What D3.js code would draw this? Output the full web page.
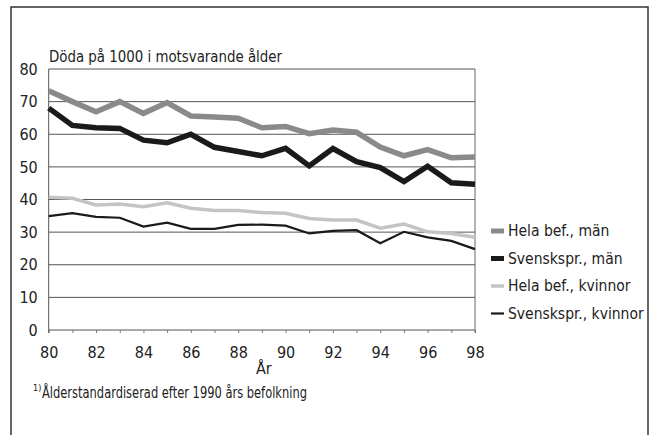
<!DOCTYPE html>
<html>
<head>
<meta charset="utf-8">
<script src="https://cdn.jsdelivr.net/npm/d3@7"></script>
<style>
  body { margin: 0; background: #fff; }
  svg text { font-family: "Liberation Sans Narrow", "DejaVu Sans Condensed", sans-serif; fill: #222; }
</style>
</head>
<body>
<svg id="chart" width="654" height="435"></svg>
<script>
// years 1980-1998 (shown as 80..98)
const years = d3.range(80, 99);
const helaMan = [73.3, 70, 66.9, 70, 66.4, 69.7, 65.6, 65.3, 64.9, 62, 62.4, 60.2, 61.3, 60.6, 56.1, 53.4, 55.3, 52.8, 53];
const svMan = [68, 62.7, 62, 61.8, 58.2, 57.4, 60, 56, 54.7, 53.4, 55.7, 50.3, 55.6, 51.6, 49.8, 45.5, 50.2, 45.1, 44.7];
const helaKv = [40.7, 40.4, 38.3, 38.6, 37.8, 39, 37.3, 36.6, 36.6, 36, 35.8, 34.2, 33.7, 33.7, 31.2, 32.5, 30.1, 29.6, 28.4];
const svKv = [34.9, 35.8, 34.7, 34.4, 31.7, 32.9, 31, 31, 32.2, 32.3, 32, 29.6, 30.4, 30.6, 26.6, 30.1, 28.4, 27.3, 24.8];
const xTicks = d3.range(80, 99, 2);
const yTicks = d3.range(0, 81, 10);

const series = [
  { name: "Hela bef., män", values: helaMan, color: "#8a8a8a", width: 5.5 },
  { name: "Svenskspr., män", values: svMan, color: "#1a1a1a", width: 5.5 },
  { name: "Hela bef., kvinnor", values: helaKv, color: "#c4c4c4", width: 3.5 },
  { name: "Svenskspr., kvinnor", values: svKv, color: "#1a1a1a", width: 2.2 },
];

const svg = d3.select("#chart");
const mLeft = 48.7, mRight = 475, mTop = 69, mBottom = 330;

// outer frame
svg.append("rect")
  .attr("x", 11).attr("y", 7)
  .attr("width", 637).attr("height", 440)
  .attr("fill", "none").attr("stroke", "#333").attr("stroke-width", 1.5);

const x = d3.scaleLinear().domain([80, 98]).range([mLeft, mRight]);
const y = d3.scaleLinear().domain([0, 80]).range([mBottom, mTop]);

// gridlines
svg.append("g")
  .selectAll("line")
  .data(yTicks)
  .join("line")
  .attr("x1", mLeft).attr("x2", mRight)
  .attr("y1", (d) => y(d)).attr("y2", (d) => y(d))
  .attr("stroke", "#555").attr("stroke-width", 1);

// plot frame sides
svg.append("line")
  .attr("x1", mLeft).attr("x2", mLeft).attr("y1", mTop).attr("y2", mBottom + 3)
  .attr("stroke", "#555").attr("stroke-width", 1);
svg.append("line")
  .attr("x1", mRight).attr("x2", mRight).attr("y1", mTop).attr("y2", mBottom + 3)
  .attr("stroke", "#666").attr("stroke-width", 1);

// x axis: minor ticks each year, labels each second year
const xAxis = d3.axisBottom(x).tickValues(years).tickSize(3).tickFormat((d) => (xTicks.includes(d) ? d : ""));
const gx = svg.append("g").attr("transform", `translate(0,${mBottom})`).call(xAxis);
gx.select(".domain").remove();
gx.selectAll(".tick line").attr("stroke", "#777");
gx.selectAll(".tick text").attr("font-size", 16).attr("dy", "1.4em");

// y axis labels
const yAxis = d3.axisLeft(y).tickValues(yTicks).tickSize(0).tickPadding(11);
const gy = svg.append("g").attr("transform", `translate(${mLeft},0)`).call(yAxis);
gy.select(".domain").remove();
gy.selectAll(".tick text").attr("font-size", 16);

// lines
const line = d3.line().x((d, i) => x(years[i])).y((d) => y(d));
svg.append("g")
  .selectAll("path")
  .data(series)
  .join("path")
  .attr("d", (d) => line(d.values))
  .attr("fill", "none")
  .attr("stroke", (d) => d.color)
  .attr("stroke-width", (d) => d.width)
  .attr("stroke-linejoin", "miter");

// titles
svg.append("text").attr("x", 49).attr("y", 62).attr("font-size", 16)
  .attr("textLength", 233).attr("lengthAdjust", "spacingAndGlyphs")
  .text("Döda på 1000 i motsvarande ålder");
svg.append("text").attr("x", (mLeft + mRight) / 2 + 2).attr("y", 374).attr("font-size", 16)
  .attr("text-anchor", "middle").text("År");

// footnote
const fn = svg.append("text").attr("x", 33).attr("y", 398).attr("font-size", 16.5);
fn.append("tspan").attr("font-size", 9).attr("dy", -7).text("1)");
fn.append("tspan").attr("x", 42).attr("dy", 7)
  .attr("textLength", 265).attr("lengthAdjust", "spacingAndGlyphs")
  .text("Ålderstandardiserad efter 1990 års befolkning");

// legend
const leg = svg.append("g")
  .selectAll("g")
  .data(series)
  .join("g")
  .attr("transform", (d, i) => `translate(491,${236 + i * 27.5})`);
leg.append("line")
  .attr("x1", 0).attr("x2", 13).attr("y1", -5).attr("y2", -5)
  .attr("stroke", (d) => d.color)
  .attr("stroke-width", (d) => Math.min(d.width, 5));
leg.append("text").attr("x", 17).attr("font-size", 15.5).text((d) => d.name);
</script>
</body>
</html>
